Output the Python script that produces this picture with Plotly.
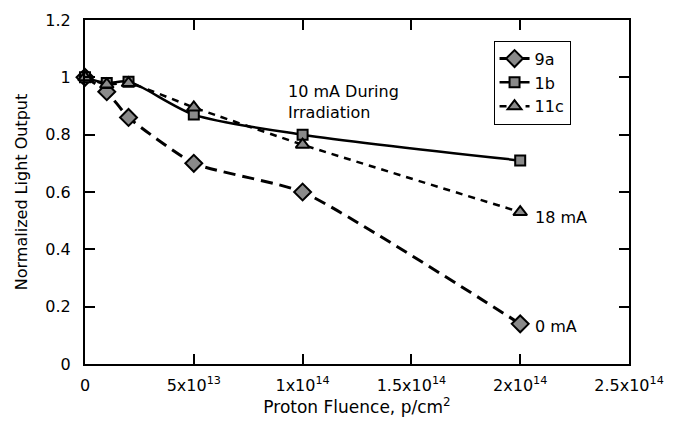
import plotly.graph_objects as go

fluence = [0, 1e13, 2e13, 5e13, 1e14, 2e14]
y_9a = [1.0, 0.95, 0.86, 0.70, 0.60, 0.14]
y_1b = [1.0, 0.98, 0.985, 0.87, 0.80, 0.71]
y_11c = [1.0, 0.975, 0.98, 0.895, 0.765, 0.53]

x_tickvals = [0, 5e13, 1e14, 1.5e14, 2e14, 2.5e14]
x_ticktext = ["0", "5x10<sup>13</sup>", "1x10<sup>14</sup>", "1.5x10<sup>14</sup>",
              "2x10<sup>14</sup>", "2.5x10<sup>14</sup>"]
y_tickvals = [0, 0.2, 0.4, 0.6, 0.8, 1.0, 1.2]
y_ticktext = ["0", "0.2", "0.4", "0.6", "0.8", "1", "1.2"]

FONT = "DejaVu Sans"
fig = go.Figure()
mk = dict(color="#8a8a8a", line=dict(color="black", width=2))
fig.add_trace(go.Scatter(x=fluence, y=y_9a, name="9a", mode="lines+markers", cliponaxis=False,
                         line=dict(color="black", width=3, dash="12px,7px", shape="spline", smoothing=0.5),
                         marker=dict(symbol="diamond", size=13, **mk)))
fig.add_trace(go.Scatter(x=fluence, y=y_1b, name="1b", mode="lines+markers", cliponaxis=False,
                         line=dict(color="black", width=2.5, shape="spline", smoothing=0.8),
                         marker=dict(symbol="square", size=10, **mk)))
fig.add_trace(go.Scatter(x=fluence, y=y_11c, name="11c", mode="lines+markers", cliponaxis=False,
                         line=dict(color="black", width=2.5, dash="7px,6px", shape="spline", smoothing=0.5),
                         marker=dict(symbol="triangle-up", size=12, **mk)))

fig.add_annotation(x=2.06e14, y=0.51, xref="x", yref="y", text="18 mA", showarrow=False,
                   xanchor="left", yanchor="middle", font=dict(size=16, color="black", family=FONT))
fig.add_annotation(x=2.06e14, y=0.13, xref="x", yref="y", text="0 mA", showarrow=False,
                   xanchor="left", yanchor="middle", font=dict(size=16, color="black", family=FONT))
fig.add_annotation(x=0.37, y=0.825, xref="paper", yref="paper", text="10 mA During<br>Irradiation",
                   showarrow=False, xanchor="left", yanchor="top", align="left",
                   font=dict(size=16, color="black", family=FONT))

fig.update_layout(
    width=675, height=427,
    margin=dict(l=85, r=44, t=11, b=63),
    paper_bgcolor="white", plot_bgcolor="white",
    font=dict(family=FONT, size=16, color="black"),
    showlegend=True,
    legend=dict(x=0.751, y=0.94, xanchor="left", yanchor="top",
                bordercolor="black", borderwidth=1, bgcolor="white",
                font=dict(size=16, family=FONT), tracegroupgap=2),
)
fig.update_xaxes(range=[0, 2.5e14], tickvals=x_tickvals, ticktext=x_ticktext,
                 ticks="inside", ticklen=10, tickwidth=1.5, tickcolor="black",
                 showline=True, linewidth=2, linecolor="black", mirror="ticks",
                 showgrid=False, zeroline=False, tickfont=dict(size=16), ticklabelstandoff=6,
                 title=dict(text="Proton Fluence, p/cm<sup>2</sup>", font=dict(size=17), standoff=6))
fig.update_yaxes(range=[0, 1.2], tickvals=y_tickvals, ticktext=y_ticktext,
                 ticks="inside", ticklen=10, tickwidth=1.5, tickcolor="black",
                 showline=True, linewidth=2, linecolor="black", mirror="ticks",
                 showgrid=False, zeroline=False, tickfont=dict(size=16), ticklabelstandoff=9,
                 title=dict(text="Normalized Light Output", font=dict(size=16), standoff=14))
fig.write_html("out.html")
